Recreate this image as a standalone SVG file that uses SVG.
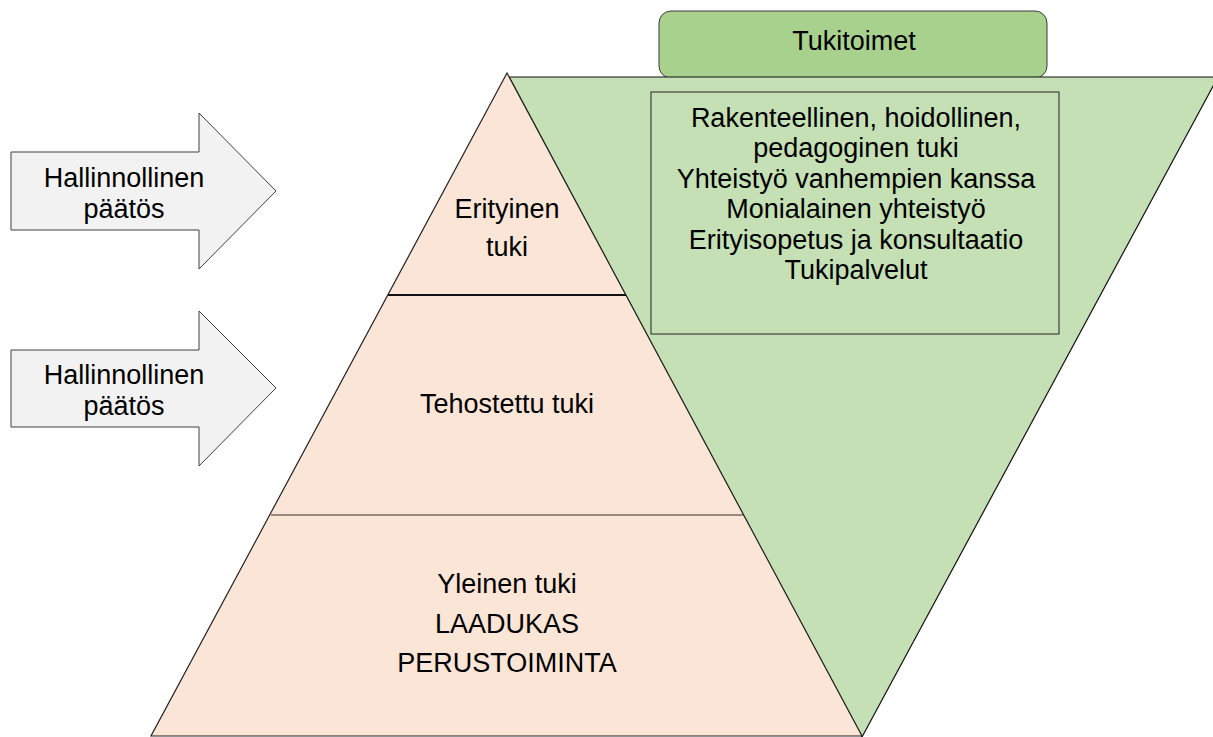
<svg xmlns="http://www.w3.org/2000/svg" width="1213" height="737" viewBox="0 0 1213 737">
<style>
text{font-family:"Liberation Sans",Arial,sans-serif;font-size:27px;fill:#000;text-anchor:middle}
.arrow{fill:#f2f2f2;stroke:#404040;stroke-width:1}
.pyr{fill:#fbe5d6;stroke:#222;stroke-width:1.2}
</style>
<rect width="1213" height="737" fill="#fff"/>
<g id="tukitoimet-header">
<rect x="659" y="11" width="388" height="67" rx="12" ry="12" fill="#a9d18e" stroke="#3a3a3a" stroke-width="1"/>
<text x="854" y="50">Tukitoimet</text>
</g>
<g id="support-triangle">
<polygon points="509,77 1218,77 862,737" fill="#c5e0b4" stroke="#111" stroke-width="1.2"/>
</g>
<g id="pyramid">
<polygon class="pyr" points="507,73 862,736 151,736"/>
<line x1="388" y1="295" x2="626" y2="295" stroke="#111" stroke-width="1.8"/>
<line x1="271" y1="515" x2="743" y2="515" stroke="#333" stroke-width="1.2"/>
</g>
<g id="erityinen">
<text x="507" y="218">Erityinen</text>
<text x="507" y="256">tuki</text>
</g>
<g id="tehostettu">
<text x="507" y="413">Tehostettu tuki</text>
</g>
<g id="yleinen">
<text x="507" y="593">Yleinen tuki</text>
<text x="507" y="633">LAADUKAS</text>
<text x="507" y="672">PERUSTOIMINTA</text>
</g>
<g id="tukitoimet-list">
<rect x="651" y="92" width="408" height="242" fill="none" stroke="#404040" stroke-width="1.2"/>
<text x="856" y="127">Rakenteellinen, hoidollinen,</text>
<text x="856" y="157">pedagoginen tuki</text>
<text x="856" y="188">Yhteistyö vanhempien kanssa</text>
<text x="856" y="218">Monialainen yhteistyö</text>
<text x="856" y="249">Erityisopetus ja konsultaatio</text>
<text x="856" y="279">Tukipalvelut</text>
</g>
<g id="arrow1">
<polygon class="arrow" points="11,152 199,152 199,113 276,191 199,269 199,230 11,230"/>
<text x="124" y="187">Hallinnollinen</text>
<text x="124" y="218">päätös</text>
</g>
<g id="arrow2">
<polygon class="arrow" points="11,350 199,350 199,311 276,388 199,466 199,427 11,427"/>
<text x="124" y="384">Hallinnollinen</text>
<text x="124" y="415">päätös</text>
</g>
<g id="connectors"></g>
</svg>
